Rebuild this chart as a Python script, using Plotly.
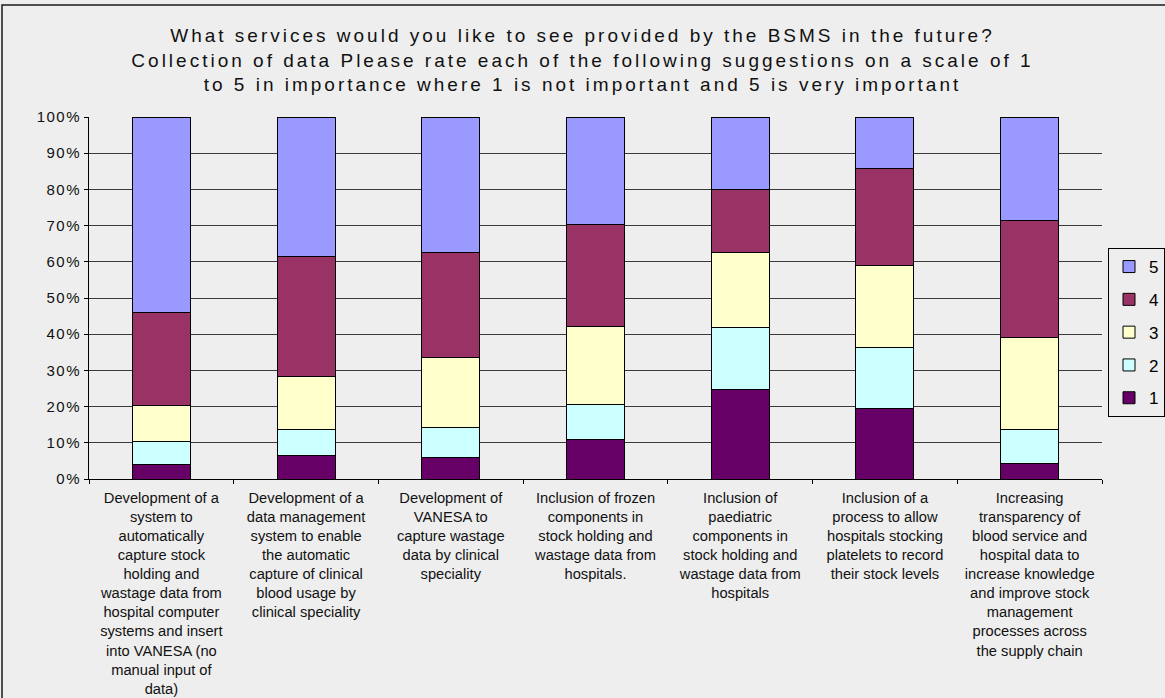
import plotly.graph_objects as go

categories = [
    "Development of a<br>system to<br>automatically<br>capture stock<br>holding and<br>wastage data from<br>hospital computer<br>systems and insert<br>into VANESA (no<br>manual input of<br>data)",
    "Development of a<br>data management<br>system to enable<br>the automatic<br>capture of clinical<br>blood usage by<br>clinical speciality",
    "Development of<br>VANESA to<br>capture wastage<br>data by clinical<br>speciality",
    "Inclusion of frozen<br>components in<br>stock holding and<br>wastage data from<br>hospitals.",
    "Inclusion of<br>paediatric<br>components in<br>stock holding and<br>wastage data from<br>hospitals",
    "Inclusion of a<br>process to allow<br>hospitals stocking<br>platelets to record<br>their stock levels",
    "Increasing<br>transparency of<br>blood service and<br>hospital data to<br>increase knowledge<br>and improve stock<br>management<br>processes across<br>the supply chain",
]

rating_1 = [3.9, 6.5, 6.0, 10.8, 24.6, 19.4, 4.4]
rating_2 = [6.5, 7.2, 8.2, 9.9, 17.2, 16.8, 9.4]
rating_3 = [9.8, 14.7, 19.4, 21.5, 20.7, 22.9, 25.4]
rating_4 = [25.9, 33.2, 28.9, 28.0, 17.6, 26.6, 32.3]
rating_5 = [53.9, 38.4, 37.5, 29.8, 19.9, 14.3, 28.5]

series_names = ["1", "2", "3", "4", "5"]
series_values = [rating_1, rating_2, rating_3, rating_4, rating_5]
series_colors = ["#660066", "#CCFFFF", "#FFFFCC", "#993366", "#9999FF"]

title_text = ("What services would you like to see provided by the BSMS in the future?<br>"
              "Collection of data Please rate each of the following suggestions on a scale of 1<br>"
              "to 5 in importance where 1 is not important and 5 is very important")

BG = "#EEEEEE"
FONT = "Liberation Sans, Arial, sans-serif"

fig = go.Figure()
for i, (name, vals, col) in enumerate(zip(series_names, series_values, series_colors)):
    fig.add_trace(go.Bar(
        x=categories, y=vals, name=name, legendgroup=name, legendrank=100 - i,
        marker=dict(color=col, line=dict(color="#000000", width=1)),
    ))

W, H = 1165, 698
L, R, T, B = 89, 63, 117, 219
pw, ph = W - L - R, H - T - B

fig.update_layout(
    width=W, height=H,
    barmode="stack", bargap=0.6,
    paper_bgcolor=BG, plot_bgcolor=BG,
    margin=dict(l=L, r=R, t=T, b=B, pad=0, autoexpand=False),
    font=dict(family=FONT, color="#000000", size=14.7),
    title=dict(text=title_text, x=0.5, xref="container", xanchor="center",
               y=1 - 42 / H, yref="container", yanchor="top",
               font=dict(family=FONT, size=19, color="#111111")),
    showlegend=True,
    legend=dict(xref="container", yref="container",
                x=1108 / W, xanchor="left", y=1 - 248 / H, yanchor="top",
                traceorder="grouped", tracegroupgap=7.7,
                bgcolor=BG, bordercolor="#000000", borderwidth=1,
                font=dict(family=FONT, size=17, color="#000000")),
    xaxis=dict(type="category", showgrid=False, showline=True, linecolor="#000000", linewidth=1,
               ticks="outside", tickson="boundaries", ticklen=4, tickcolor="#000000",
               tickangle=0, automargin=False, ticklabelstandoff=5,
               tickfont=dict(size=14.7, color="#111111")),
    yaxis=dict(range=[0, 100], dtick=10, ticksuffix="%", showgrid=True, gridcolor="#3a3a3a",
               gridwidth=1, showline=True, linecolor="#000000", linewidth=1, zeroline=False,
               ticks="outside", ticklen=4, tickcolor="#000000", automargin=False,
               tickfont=dict(size=15, color="#111111")),
    shapes=[dict(type="rect", xref="paper", yref="paper",
                 x0=(2 - L) / pw, x1=(W + 60 - L) / pw,
                 y0=(479 - (H + 60)) / ph, y1=(479 - 5) / ph,
                 line=dict(color="#1a1a1a", width=1.5), fillcolor="rgba(0,0,0,0)", layer="below")],
)

post = """
var gd = document.getElementById('{plot_id}');
function sp(){
  gd.querySelectorAll('.gtitle').forEach(function(t){t.style.letterSpacing='3px';});
  gd.querySelectorAll('.ytick text').forEach(function(t){t.style.letterSpacing='1.5px';});
}
sp();
gd.on('plotly_afterplot', sp);
"""

fig.write_html("out.html", post_script=post)
